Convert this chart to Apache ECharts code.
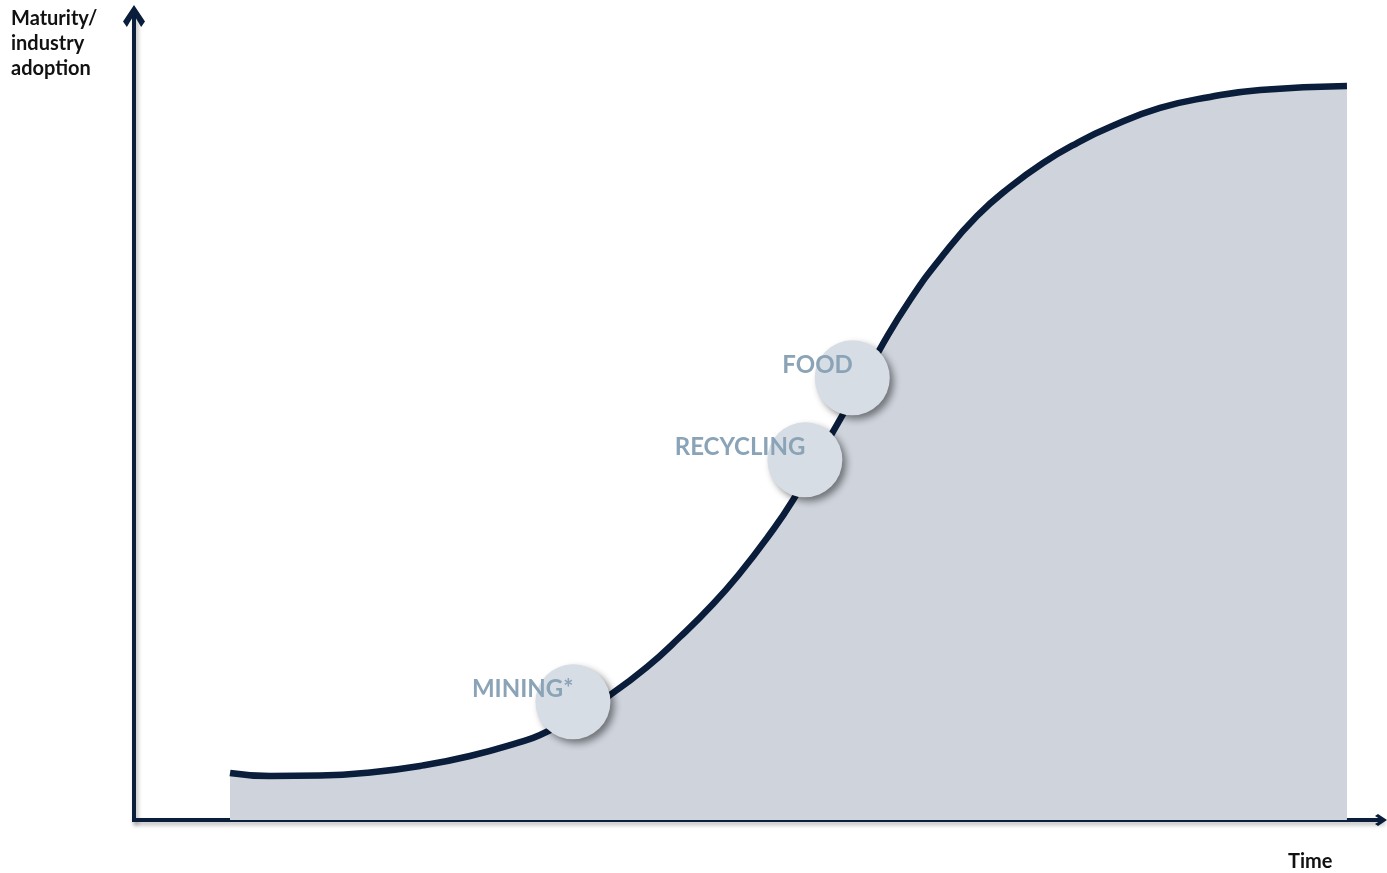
<!DOCTYPE html>
<html>
<head>
<meta charset="utf-8">
<script src="https://cdn.jsdelivr.net/npm/echarts@6/dist/echarts.min.js"></script>
<style>
html,body{margin:0;padding:0;background:#fff;}
#c{width:1387px;height:873px;}
</style>
</head>
<body>
<div id="c"></div>
<script>
// S-curve: time (x, 0-100) vs maturity / industry adoption (y, 0-100)
const curveX = [7.70, 10.91, 14.92, 18.93, 22.94, 26.94, 30.95, 32.56, 35.36, 38.17, 41.14, 43.78, 46.43, 48.60, 50.76, 52.85, 56.46, 59.82, 62.23, 64.88, 67.60, 70.25, 72.90, 75.62, 78.27, 82.28, 86.29, 90.30, 97.27];
const curveY = [5.85, 5.47, 5.53, 5.91, 6.72, 7.96, 9.70, 10.57, 12.81, 15.55, 19.03, 22.76, 26.87, 30.72, 35.07, 39.80, 49.38, 58.58, 64.68, 70.27, 75.12, 78.73, 81.72, 84.20, 86.19, 88.56, 89.93, 90.80, 91.29];

const sectors = ['MINING*', 'RECYCLING', 'FOOD'];
const sectorX = [35.2, 53.8, 57.6];
const sectorY = [14.7, 44.8, 55.0];

const yTitle = 'Maturity/\nindustry\nadoption';
const xTitle = 'Time';

const navy = '#0a1d3b';
const chevron = 'path://M10,0 L20,15 L16.5,20 L10,9 L3.5,20 L0,15 Z';
const axisShadow = {shadowColor: 'rgba(0,0,0,0.28)', shadowBlur: 4, shadowOffsetX: 2, shadowOffsetY: 3};

const chart = echarts.init(document.getElementById('c'), null, {renderer: 'canvas'});
chart.setOption({
  animation: false,
  backgroundColor: '#ffffff',
  grid: {left: 134, right: 6, top: 16, bottom: 53},
  xAxis: {
    type: 'value', min: 0, max: 100,
    axisLine: {show: true, symbol: ['none', chevron], symbolSize: [24, 12],
      lineStyle: Object.assign({color: navy, width: 4, cap: 'square'}, axisShadow)},
    axisTick: {show: false}, axisLabel: {show: false}, splitLine: {show: false}
  },
  yAxis: {
    type: 'value', min: 0, max: 100,
    axisLine: {show: true, symbol: ['none', chevron], symbolSize: [22, 22],
      lineStyle: Object.assign({color: navy, width: 4, cap: 'square'}, axisShadow)},
    axisTick: {show: false}, axisLabel: {show: false}, splitLine: {show: false}
  },
  graphic: [
    {type: 'text', left: 11, top: 6, z: 10,
      style: {text: yTitle, font: 'bold 20px Lato, "Open Sans", sans-serif', lineHeight: 25, fill: '#111'}},
    {type: 'text', left: 1288, top: 852, z: 10,
      style: {text: xTitle, font: 'bold 20px Lato, "Open Sans", sans-serif', fill: '#111'}}
  ],
  series: [
    {
      type: 'line',
      data: curveX.map((x, i) => [x, curveY[i]]),
      smooth: 0.5,
      showSymbol: false,
      lineStyle: {color: navy, width: 6.5, cap: 'butt'},
      areaStyle: {color: '#ced3dc', opacity: 1, origin: 'start'},
      z: 2
    },
    {
      type: 'scatter',
      data: sectors.map((n, i) => ({name: n, value: [sectorX[i], sectorY[i]]})),
      symbol: 'circle',
      symbolSize: 75,
      itemStyle: {color: '#d6dde4', opacity: 1, shadowColor: 'rgba(0,0,0,0.45)', shadowBlur: 7, shadowOffsetX: 4, shadowOffsetY: 4},
      label: {
        show: true,
        formatter: '{b}',
        position: [38, 25],
        align: 'right',
        verticalAlign: 'middle',
        color: '#8aa3b7',
        fontFamily: 'Lato, "Open Sans", sans-serif',
        fontWeight: 'bold',
        fontSize: 24
      },
      z: 5
    }
  ]
});
</script>
</body>
</html>
